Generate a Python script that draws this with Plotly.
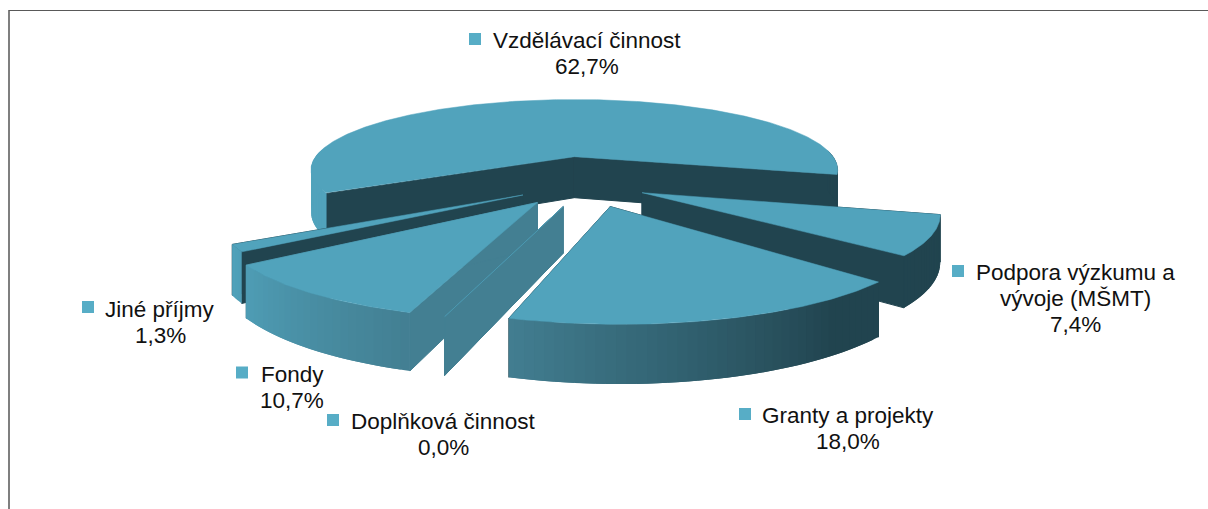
import numpy as np
import plotly.graph_objects as go

# ── Data ──────────────────────────────────────────────────────────────────────
LABELS = ["Vzdělávací činnost", "Podpora výzkumu a vývoje (MŠMT)", "Granty a projekty",
          "Doplňková činnost", "Fondy", "Jiné příjmy"]
SHARES = [62.7, 7.4, 18.0, 0.0, 10.7, 1.3]

# label text split over lines, and where each block sits
LABEL_LINES = [["Vzdělávací činnost"], ["Podpora výzkumu a", "vývoje (MŠMT)"], ["Granty a projekty"],
               ["Doplňková činnost"], ["Fondy"], ["Jiné příjmy"]]
TEXT_X = [587, 1075, 848, 443, 292, 160]
TEXT_Y = [40, 272, 415, 421, 374, 309]
MARKER_X = [475, 958, 745, 333, 242, 88]
MARKER_Y = [39, 271, 414, 420, 372.5, 307]

# ── Look ──────────────────────────────────────────────────────────────────────
TOP = "#51A3BC"
KEY = "#57ADC6"
MID = "#437F92"
DARK = "#21444F"
CUT_COLORS = [DARK, DARK, DARK, MID, MID, DARK]
PAINT_ORDER = [0, 5, 4, 1, 3, 2]

# 3D pie set-up (Excel-like perspective). The tweaks only bend the drawing to
# follow the way Excel's projection distorts the slices.
START_ANGLE = 239.0
RADII = [259.0, 263.0, 272.0, 270.0, 275.0, 268.0]
NUDGE_X = [0.0, 0.0, 6.0, -2.0, -7.0, -5.0]
EDGE_TWEAK = [(1.5, 0), (0, 0), (3.0, 0.6), (1.5, 1.5), (1.6, -1.0), (0, 0)]
EXPLODE_X, EXPLODE_Y = 60.0, 86.0
CENTER_X, CENTER_Y = 8.0, 84.0
VANISH_X, HORIZON_Y = 575.0, -210.0
DEPTH = 1400.0
PLANE = 367.0
THICK = 41.0


def project(x, y, z=0.0):
    """World → pixel. y grows towards the viewer, z=1 is the bottom of the pie."""
    f = DEPTH / (DEPTH - y)
    return VANISH_X + x * f, HORIZON_Y + (PLANE + THICK * z) * f


def rim_color(clock):
    """Outer wall shading by direction around the pie."""
    stops = [145.0, 197.0, 240.0]
    rgb = np.array([[0x21, 0x44, 0x4F], [0x43, 0x7F, 0x92], [0x51, 0xA3, 0xBC]])
    c = [np.interp(clock, stops, rgb[:, i]) for i in range(3)]
    return "rgb(%d,%d,%d)" % tuple(c)


def poly(fig, pts, color, width=0.5):
    pts = pts + pts[:1]  # close it, so the outline runs all the way round
    fig.add_trace(go.Scatter(
        x=[p[0] for p in pts], y=[p[1] for p in pts], mode="lines", fill="toself", fillcolor=color,
        line=dict(color=color, width=width), hoverinfo="skip", showlegend=False,
    ))


def draw_slice(fig, a0, a1, cut_color, radius, nudge, tweak):
    mid = np.radians((a0 + a1) / 2)
    ax = CENTER_X + nudge + EXPLODE_X * np.sin(mid)
    ay = CENTER_Y - EXPLODE_Y * np.cos(mid)
    a0, a1 = a0 + tweak[0], a1 + tweak[1]

    def rim(angle):
        t = np.radians(angle)
        return ax + radius * np.sin(t), ay - radius * np.cos(t)

    # cut faces
    for a in (a0, a1):
        r = rim(a)
        poly(fig, [project(ax, ay), project(*r), project(*r, 1), project(ax, ay, 1)], cut_color, 1)

    # outer wall, only the part that faces the viewer; each strip runs under the
    # next one so no white seams show between them
    step = 1.5
    edges = np.arange(a0, a1 + step, step)
    edges = np.append(edges[edges < a1], a1)
    for s, e in zip(edges[:-1], edges[1:]):
        clock = ((s + e) / 2) % 360
        if clock < 85 or clock > 275:
            continue
        e2 = min(e + step, a1)
        pts = [project(*rim(s)), project(*rim(e2)), project(*rim(e2), 1), project(*rim(s), 1)]
        poly(fig, pts, rim_color(clock), 0)

    # top plate
    arc = np.linspace(a0, a1, max(2, int(a1 - a0) * 2))
    poly(fig, [project(ax, ay)] + [project(*rim(a)) for a in arc], TOP)


fig = go.Figure()

spans = np.array(SHARES) / sum(SHARES) * 360
starts = START_ANGLE + np.concatenate([[0], np.cumsum(spans)[:-1]])
for i in PAINT_ORDER:
    draw_slice(fig, starts[i], starts[i] + spans[i], CUT_COLORS[i], RADII[i], NUDGE_X[i], EDGE_TWEAK[i])

# legend-key squares next to the labels
fig.add_trace(go.Scatter(
    x=MARKER_X, y=MARKER_Y, mode="markers",
    marker=dict(symbol="square", size=12, color=KEY),
    hoverinfo="skip", showlegend=False,
))

LINE_GAP = 26
for i, lines in enumerate(LABEL_LINES):
    for j, line in enumerate(lines):
        fig.add_annotation(x=TEXT_X[i], y=TEXT_Y[i] + j * LINE_GAP, text=line, showarrow=False)
    fig.add_annotation(
        x=TEXT_X[i], y=TEXT_Y[i] + len(lines) * LINE_GAP,
        text=f"{SHARES[i]:.1f}%".replace(".", ","), showarrow=False,
    )

fig.update_layout(
    width=1208, height=509,
    margin=dict(l=0, r=0, t=0, b=0),
    paper_bgcolor="white", plot_bgcolor="white",
    font=dict(family="Liberation Sans", size=22.5, color="#111111"),
    xaxis=dict(range=[0, 1208], visible=False, fixedrange=True),
    yaxis=dict(range=[509, 0], visible=False, fixedrange=True),
    shapes=[
        dict(type="line", x0=9, x1=9, y0=10, y1=509, line=dict(color="#7F7F7F", width=2)),
        dict(type="line", x0=9, x1=1208, y0=10.5, y1=10.5, line=dict(color="#595959", width=1)),
    ],
)

fig.write_html("out.html", config=dict(displayModeBar=False),
               post_script="document.body.style.margin='0';document.body.style.overflow='hidden';")
